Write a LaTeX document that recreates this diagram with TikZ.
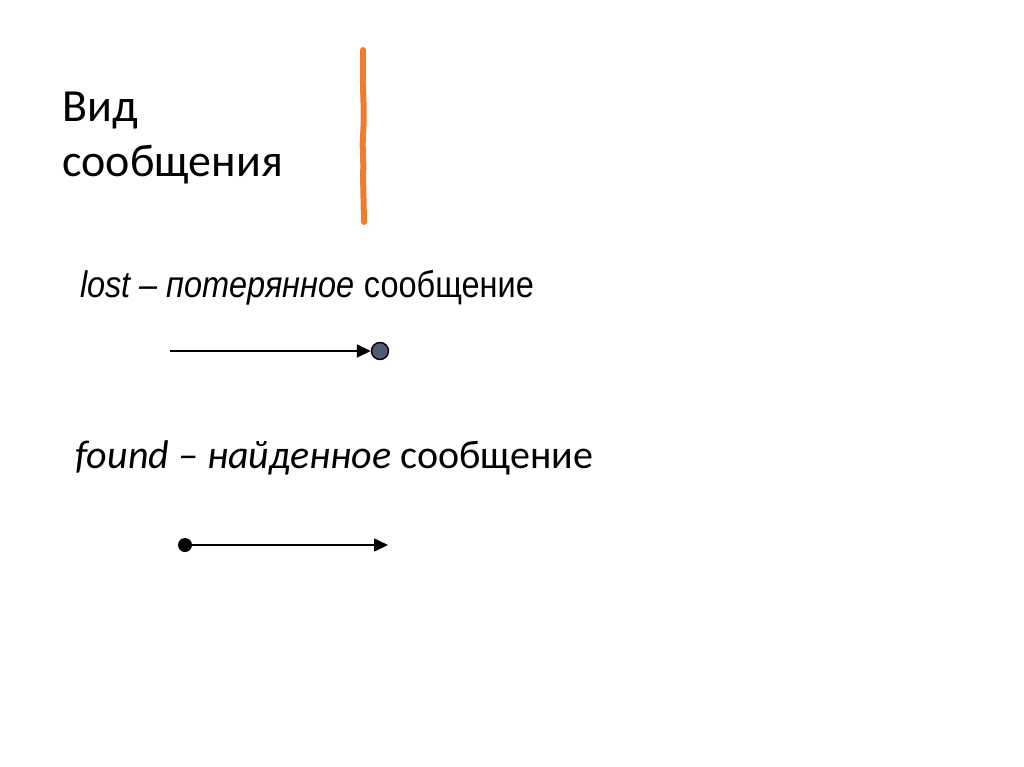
\documentclass[tikz,border=0pt]{standalone}
\usepackage{fontspec}
\setmainfont{Carlito}
\newfontfamily\arialf{Liberation Sans}
\usetikzlibrary{arrows.meta}
\tikzset{
  msg/.style={line width=1.6pt, -{Triangle[length=14pt,width=13pt]}},
  txt/.style={inner sep=0pt, anchor=base west},
}
\begin{document}
\begin{tikzpicture}[x=1pt,y=-1pt]
\useasboundingbox (0,0) rectangle (1024,767);
\fill[white] (0,0) rectangle (1024,767);
% title
\node[txt, align=left, font=\fontsize{46}{55}\selectfont] (title) at (62,177) {Вид\\сообщения};
% orange bar
\draw[line width=6pt, line cap=round, draw={rgb,255:red,237;green,125;blue,49}]
  (363,50) .. controls (362,90) and (365,110) .. (363,135) .. controls (362,150) and (364,160) .. (363,175) -- (364,222);
% lost
\node[txt, font=\arialf\fontsize{37}{44}\selectfont] (lost) at (80,297) {\scalebox{0.878}[1]{\textit{lost – потерянное} сообщение}};
\node[circle, draw=black, line width=1.4pt, fill={rgb,255:red,79;green,91;blue,115}, minimum size=17pt, inner sep=0pt] (lostdot) at (380,351) {};
\coordinate (lostst) at (170,351);
\draw[msg] (lostst) -- (lostdot.west);
% found
\node[txt, font=\fontsize{40}{48}\selectfont] (found) at (75,468) {\textit{found – найденное} сообщение};
\node[circle, fill=black, minimum size=14pt, inner sep=0pt] (founddot) at (185,545) {};
\coordinate (foundend) at (388,545);
\draw[msg] (founddot.center) -- (foundend);
\end{tikzpicture}
\end{document}
